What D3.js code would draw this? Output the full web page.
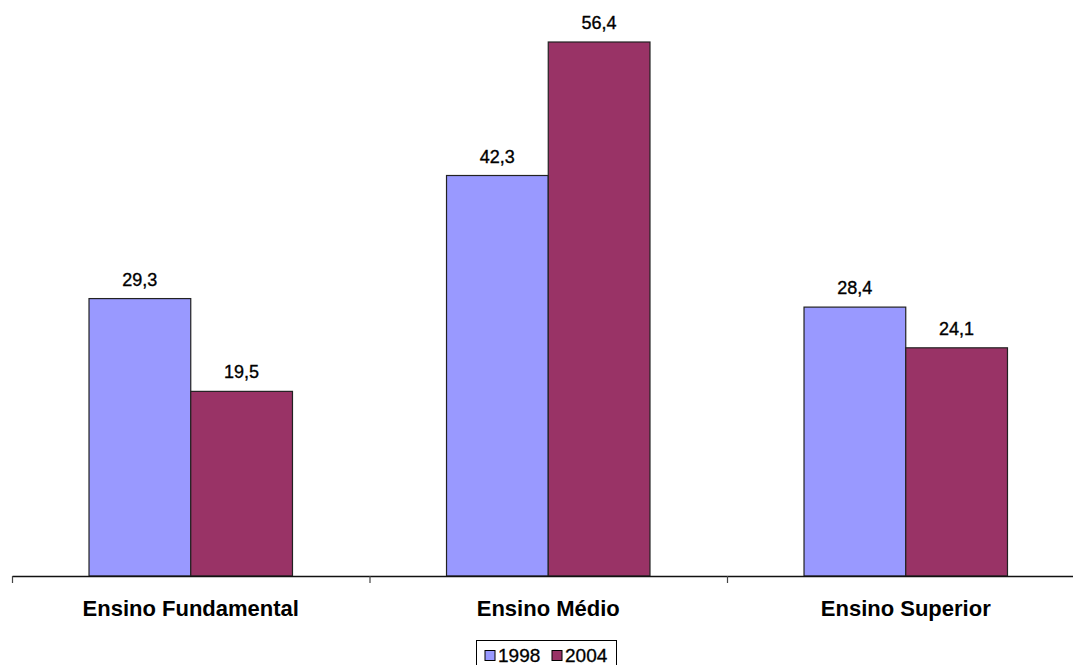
<!DOCTYPE html>
<html>
<head>
<meta charset="utf-8">
<script src="https://cdn.jsdelivr.net/npm/d3@7"></script>
<style>
  html, body { margin: 0; padding: 0; background: #fff; }
  svg { display: block; }
  text { font-family: Arial, "Liberation Sans", sans-serif; fill: #000; }
</style>
</head>
<body>
<script>
// Education levels and the two survey years
const categories = ["Ensino Fundamental", "Ensino Médio", "Ensino Superior"];
const seriesNames = ["1998", "2004"];
const values1998 = [29.3, 42.3, 28.4];
const values2004 = [19.5, 56.4, 24.1];
const seriesColors = ["#9999FF", "#993366"];

const W = 1073, H = 665;
const svg = d3.select("body").append("svg").attr("width", W).attr("height", H);

const baseY = 576;
const left = 12, right = 1084.5;

const x0 = d3.scaleBand().domain(categories).range([left, right]).padding(0);
const x1 = d3.scaleBand().domain(seriesNames).range([0, x0.bandwidth()])
  .paddingInner(0).paddingOuter(0.757);
const y = d3.scaleLinear().domain([0, 60]).range([baseY, baseY - 60 * 9.468]);

const fmt = v => v.toFixed(1).replace(".", ",");
const rows = categories.map((c, i) => ({
  cat: c,
  vals: [
    { s: seriesNames[0], v: values1998[i], color: seriesColors[0] },
    { s: seriesNames[1], v: values2004[i], color: seriesColors[1] }
  ]
}));

// Bars
const groups = svg.selectAll("g.cat").data(rows).join("g")
  .attr("class", "cat")
  .attr("transform", d => `translate(${x0(d.cat)},0)`);

groups.selectAll("rect").data(d => d.vals).join("rect")
  .attr("x", d => x1(d.s))
  .attr("y", d => y(d.v))
  .attr("width", x1.bandwidth())
  .attr("height", d => baseY - y(d.v))
  .attr("fill", d => d.color)
  .attr("stroke", "#222")
  .attr("stroke-width", 1.2);

// Value labels
groups.selectAll("text.val").data(d => d.vals).join("text")
  .attr("class", "val")
  .attr("x", d => x1(d.s) + x1.bandwidth() / 2)
  .attr("y", d => y(d.v) - 13)
  .attr("text-anchor", "middle")
  .style("font-size", "18px")
  .style("stroke", "#000").style("stroke-width", "0.35px")
  .text(d => fmt(d.v));

// Category axis with separator ticks between groups
const xEdges = d3.scaleLinear().domain([0, categories.length]).range([left, right]);
const axis = d3.axisBottom(xEdges)
  .tickValues(d3.range(categories.length + 1))
  .tickSize(7).tickSizeOuter(0).tickFormat("");
const axisG = svg.append("g").attr("transform", `translate(0,${baseY})`).call(axis);
axisG.select(".domain").attr("stroke", "#111").attr("stroke-width", 1.5);
axisG.selectAll(".tick line").attr("stroke", "#444").attr("stroke-width", 1.2);

// Category labels
svg.selectAll("text.cat").data(categories).join("text")
  .attr("class", "cat")
  .attr("x", d => x0(d) + x0.bandwidth() / 2)
  .attr("y", 616)
  .attr("text-anchor", "middle")
  .style("font-size", "22px")
  .style("font-weight", "bold")
  .text(d => d);

// Legend
const legend = svg.append("g").attr("transform", "translate(476.5,640.5)");
legend.append("rect").attr("width", 140).attr("height", 27)
  .attr("fill", "#fff").attr("stroke", "#000").attr("stroke-width", 1);
const items = legend.selectAll("g.item").data(seriesNames).join("g")
  .attr("class", "item")
  .attr("transform", (d, i) => `translate(${8.5 + i * 67},0)`);
items.append("rect")
  .attr("y", 10).attr("width", 10).attr("height", 10)
  .attr("fill", (d, i) => seriesColors[i])
  .attr("stroke", "#000").attr("stroke-width", 1);
items.append("text")
  .attr("x", 13).attr("y", 21.5)
  .style("font-size", "19px")
  .style("stroke", "#000").style("stroke-width", "0.3px")
  .text(d => d);
</script>
</body>
</html>
